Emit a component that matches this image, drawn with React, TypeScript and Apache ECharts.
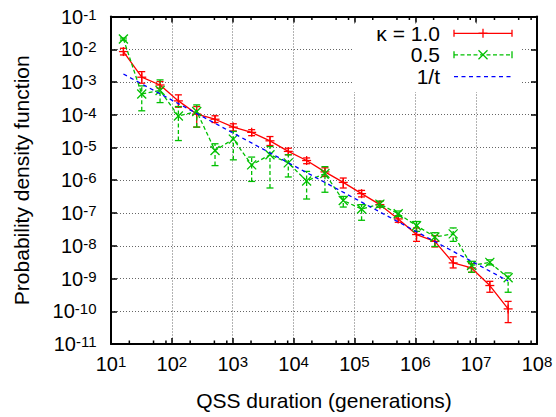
import React, { useEffect, useRef } from "react";
import * as echarts from "echarts";

// QSS durations (generations)
const durations = [
  16, 32, 64, 128, 256, 512, 1024, 2048, 4096, 8192, 16384, 32768, 65536,
  131072, 262144, 524288, 1048576, 2097152, 4194304, 8388608, 16777216, 33554432,
];

// kappa = 1.0
const k10Pdf = [
  8.5e-3, 1.4e-3, 8.1e-4, 2.65e-4, 1.05e-4, 7.3e-5, 4.2e-5, 2.9e-5, 1.6e-5, 7.6e-6, 4.0e-6,
  1.8e-6, 8.6e-7, 3.9e-7, 1.8e-7, 6.6e-8, 2.2e-8, 1.36e-8, 3.0e-9, 2.1e-9, 6.1e-10, 1.18e-10,
];
const k10Lo = [
  6.7e-3, 9.2e-4, 6.5e-4, 1.7e-4, 4.2e-5, 5.8e-5, 3.2e-5, 2.3e-5, 1.15e-5, 6.0e-6, 3.2e-6,
  1.3e-6, 5.8e-7, 3.1e-7, 1.52e-7, 5.2e-8, 1.36e-8, 9.2e-9, 2.1e-9, 1.55e-9, 3.8e-10, 4.5e-11,
];
const k10Hi = [
  1.07e-2, 2.07e-3, 1.03e-3, 4.05e-4, 1.78e-4, 9.3e-5, 5.3e-5, 3.5e-5, 2.16e-5, 9.5e-6, 4.8e-6,
  2.4e-6, 1.17e-6, 4.9e-7, 2.26e-7, 8.3e-8, 3.5e-8, 2.04e-8, 4.6e-9, 2.85e-9, 8.2e-10, 2.0e-10,
];

// kappa = 0.5
const k05Pdf = [
  2.06e-2, 4.3e-4, 5.5e-4, 9.2e-5, 1.26e-4, 8.1e-6, 1.8e-5, 2.95e-6, 6.0e-6, 3.4e-6, 9.5e-7,
  1.6e-6, 2.4e-7, 1.32e-7, 1.87e-7, 9.5e-8, 4.1e-8, 1.86e-8, 2.3e-8, 2.5e-9, 3.1e-9, 1.05e-9,
];
const k05Lo = [
  1.9e-2, 1.32e-4, 2.35e-4, 1.63e-5, 4.2e-5, 2.8e-6, 4.2e-6, 9.2e-7, 5.8e-7, 1.26e-6, 2.67e-7,
  4.3e-7, 1.52e-7, 6.0e-8, 1.5e-7, 7.8e-8, 2.75e-8, 9.5e-9, 1.36e-8, 1.55e-9, 2.6e-9, 3.8e-10,
];
const k05Hi = [
  2.2e-2, 7.6e-4, 1.16e-3, 1.78e-4, 2.0e-4, 1.3e-5, 3.1e-5, 5.1e-6, 1.07e-5, 6.0e-6, 1.86e-6,
  2.6e-6, 3.2e-7, 1.8e-7, 2.3e-7, 1.15e-7, 5.5e-8, 2.5e-8, 3.5e-8, 3.35e-9, 3.7e-9, 1.48e-9,
];

// 1/t reference line (end points)
const refT = [16, 33554432];
const refPdf = [1.75e-3, 8.4e-10];

// axis ranges and minor tick mantissas
const xMin = 10;
const xMax = 1e8;
const yMin = 1e-11;
const yMax = 1e-1;
const minorDecades = [1e1, 1e2, 1e3, 1e4, 1e5, 1e6, 1e7];
const minorMantissas = [2, 5, 8];

const RED = "#ff0000";
const GREEN = "#00c000";
const BLUE = "#0000ff";
const FONT = "Liberation Sans, Arial, Helvetica, sans-serif";

function markerEls(kind: string, cx: number, cy: number, color: string, z = 0) {
  const m = 4.5;
  const st = { stroke: color, lineWidth: 1.3 };
  if (kind === "plus") {
    return [
      { type: "line", z, shape: { x1: cx - m, y1: cy, x2: cx + m, y2: cy }, style: st },
      { type: "line", z, shape: { x1: cx, y1: cy - m, x2: cx, y2: cy + m }, style: st },
    ];
  }
  return [
    { type: "line", z, shape: { x1: cx - m, y1: cy - m, x2: cx + m, y2: cy + m }, style: st },
    { type: "line", z, shape: { x1: cx - m, y1: cy + m, x2: cx + m, y2: cy - m }, style: st },
  ];
}

function errorSeries(
  name: string,
  ys: number[],
  lo: number[],
  hi: number[],
  color: string,
  dash: number[] | null,
  kind: string,
  z: number
) {
  return {
    type: "custom",
    name,
    z,
    xAxisIndex: 0,
    yAxisIndex: 0,
    clip: false,
    data: durations.map((t, i) => [t, ys[i], lo[i], hi[i]]),
    encode: { x: 0, y: 1 },
    renderItem: (params: any, api: any) => {
      const t = api.value(0);
      const p = api.coord([t, api.value(1)]);
      const a = api.coord([t, api.value(2)]);
      const b = api.coord([t, api.value(3)]);
      const cw = 3.5;
      const barStyle: any = { stroke: color, lineWidth: 1.3 };
      if (dash) barStyle.lineDash = dash;
      const capStyle = { stroke: color, lineWidth: 1.3 };
      const children: any[] = [
        { type: "line", shape: { x1: p[0], y1: a[1], x2: p[0], y2: b[1] }, style: barStyle },
        { type: "line", shape: { x1: p[0] - cw, y1: a[1], x2: p[0] + cw, y2: a[1] }, style: capStyle },
        { type: "line", shape: { x1: p[0] - cw, y1: b[1], x2: p[0] + cw, y2: b[1] }, style: capStyle },
        ...markerEls(kind, p[0], p[1], color),
      ];
      return { type: "group", children };
    },
  };
}

const supRich = {
  b: { fontSize: 20, fontFamily: FONT, color: "#000", verticalAlign: "bottom", lineHeight: 20 },
  s: {
    fontSize: 15,
    fontFamily: FONT,
    color: "#000",
    verticalAlign: "top",
    lineHeight: 15,
    padding: [0, 0, 11, 0],
  },
};

const powLabel = (v: number) => {
  const e = Math.round(Math.log10(v));
  return `{b|10}{s|${e}}`;
};

function legendRow(y: number, label: string, color: string, dash: number[] | null, kind: string | null, caps: boolean) {
  const z = 20;
  const x1 = 454;
  const x2 = 512;
  const ls: any = { stroke: color, lineWidth: 1.3 };
  if (dash) ls.lineDash = dash;
  const els: any[] = [
    {
      type: "text",
      z,
      x: 440,
      y,
      style: {
        text: label,
        font: `21px ${FONT}`,
        fill: "#000",
        align: "right",
        verticalAlign: "middle",
        textAlign: "right",
        textVerticalAlign: "middle",
      },
    },
    { type: "line", z, shape: { x1, y1: y, x2, y2: y }, style: ls },
  ];
  if (caps) {
    els.push({ type: "line", z, shape: { x1, y1: y - 3.5, x2: x1, y2: y + 3.5 }, style: { stroke: color, lineWidth: 1.3 } });
    els.push({ type: "line", z, shape: { x1: x2, y1: y - 3.5, x2, y2: y + 3.5 }, style: { stroke: color, lineWidth: 1.3 } });
  }
  if (kind) {
    markerEls(kind, (x1 + x2) / 2, y, color, z).forEach((e) => els.push(e));
  }
  return els;
}

export default function App() {
  const ref = useRef<HTMLDivElement>(null);
  useEffect(() => {
    if (!ref.current) return;
    const chart = echarts.init(ref.current, null, { renderer: "svg" });
    const minorTicks: number[] = [];
    minorDecades.forEach((d) => minorMantissas.forEach((m) => minorTicks.push(d * m)));

    const tickStyle = { show: true, inside: true, length: 6, lineStyle: { color: "#000", width: 1.5 } };
    const axisLine = { show: true, lineStyle: { color: "#000", width: 2 } };
    const gridLine = { show: true, lineStyle: { color: "#666", width: 1, type: [1, 2] } };

    const option: any = {
      animation: false,
      backgroundColor: "#fff",
      grid: { left: 111, right: 19, top: 16.5, bottom: 73, containLabel: false },
      xAxis: [
        {
          type: "log",
          logBase: 10,
          min: xMin,
          max: xMax,
          interval: 1,
          position: "bottom",
          axisLine,
          axisTick: tickStyle,
          axisLabel: {
            interval: 0,
            margin: 10,
            formatter: powLabel,
            rich: supRich,
            showMinLabel: true,
            showMaxLabel: true,
          },
          splitLine: gridLine,
          name: "QSS duration (generations)",
          nameLocation: "middle",
          nameGap: 46,
          nameTextStyle: { fontSize: 21, fontFamily: FONT, color: "#000" },
        },
        {
          type: "log",
          logBase: 10,
          min: xMin,
          max: xMax,
          interval: 1,
          position: "top",
          axisLine,
          axisTick: tickStyle,
          axisLabel: { show: false },
          splitLine: { show: false },
        },
      ],
      yAxis: [
        {
          type: "log",
          logBase: 10,
          min: yMin,
          max: yMax,
          interval: 1,
          position: "left",
          axisLine,
          axisTick: tickStyle,
          axisLabel: {
            interval: 0,
            margin: 14.5,
            formatter: powLabel,
            rich: supRich,
            showMinLabel: true,
            showMaxLabel: true,
          },
          splitLine: gridLine,
          name: "Probability density function",
          nameLocation: "middle",
          nameGap: 79,
          nameTextStyle: { fontSize: 21, fontFamily: FONT, color: "#000" },
        },
        {
          type: "log",
          logBase: 10,
          min: yMin,
          max: yMax,
          interval: 1,
          position: "right",
          axisLine,
          axisTick: tickStyle,
          axisLabel: { show: false },
          splitLine: { show: false },
        },
      ],
      series: [
        {
          type: "custom",
          name: "minorTicks",
          z: 1,
          silent: true,
          clip: false,
          data: minorTicks.map((v) => [v, 1e-6]),
          encode: { x: 0, y: 1 },
          renderItem: (params: any, api: any) => {
            const cs = params.coordSys;
            const px = api.coord([api.value(0), 1e-6])[0];
            const st = { stroke: "#000", lineWidth: 1.5 };
            return {
              type: "group",
              children: [
                { type: "line", shape: { x1: px, y1: cs.y + cs.height, x2: px, y2: cs.y + cs.height - 3.5 }, style: st },
                { type: "line", shape: { x1: px, y1: cs.y, x2: px, y2: cs.y + 3.5 }, style: st },
              ],
            };
          },
        },
        {
          type: "line",
          name: "κ = 1.0",
          z: 2,
          symbol: "none",
          data: durations.map((t, i) => [t, k10Pdf[i]]),
          lineStyle: { color: RED, width: 1.3, type: "solid" },
        },
        errorSeries("κ = 1.0 err", k10Pdf, k10Lo, k10Hi, RED, null, "plus", 3),
        {
          type: "line",
          name: "0.5",
          z: 4,
          symbol: "none",
          data: durations.map((t, i) => [t, k05Pdf[i]]),
          lineStyle: { color: GREEN, width: 1.3, type: [4, 2.5] },
        },
        errorSeries("0.5 err", k05Pdf, k05Lo, k05Hi, GREEN, [4, 2.5], "cross", 5),
        {
          type: "line",
          name: "1/t",
          z: 6,
          symbol: "none",
          data: refT.map((t, i) => [t, refPdf[i]]),
          lineStyle: { color: BLUE, width: 1.3, type: [4, 3.5] },
        },
      ],
      graphic: [
        { type: "rect", z: 15, shape: { x: 352, y: 24, width: 170, height: 68 }, style: { fill: "#fff" } },
        ...legendRow(33.3, "κ = 1.0", RED, null, "plus", true),
        ...legendRow(54.8, "0.5", GREEN, [4, 2.5], "cross", true),
        ...legendRow(76.7, "1/t", BLUE, [4, 3.5], null, false),
      ],
    };
    chart.setOption(option);
    return () => chart.dispose();
  }, []);

  return (
    <div
      ref={ref}
      style={{ position: "absolute", left: 0, top: 0, width: 556, height: 417, background: "#fff" }}
    />
  );
}
